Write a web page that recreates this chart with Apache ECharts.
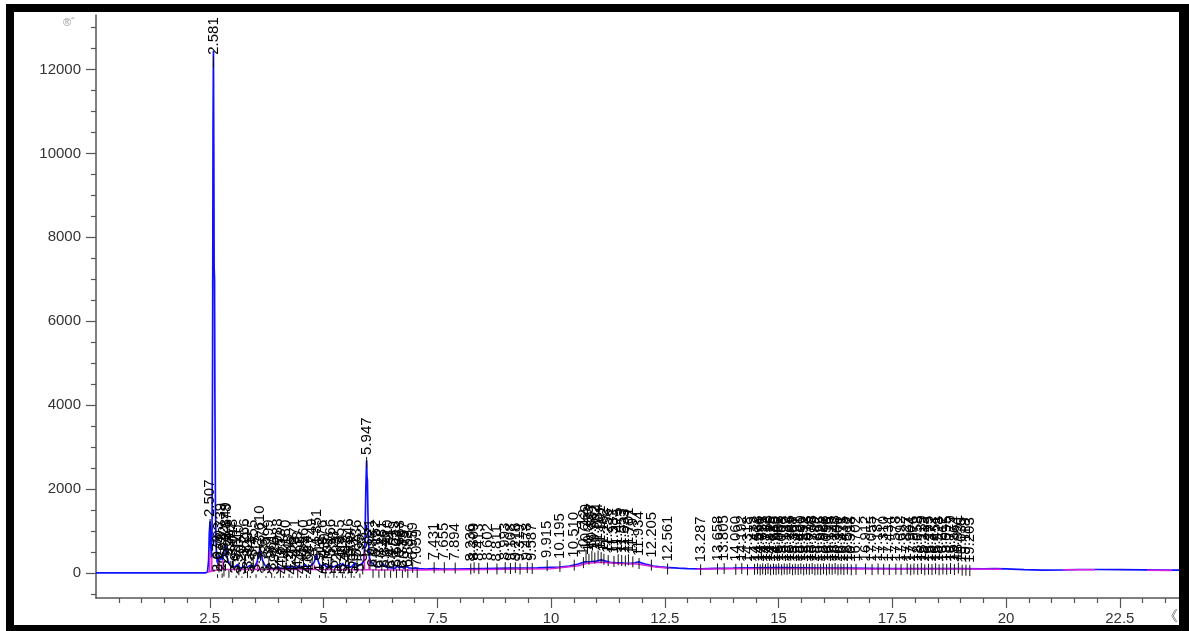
<!DOCTYPE html>
<html>
<head>
<meta charset="utf-8">
<script src="https://cdn.jsdelivr.net/npm/echarts@6/dist/echarts.min.js"></script>
<style>
html,body{margin:0;padding:0;background:#fff;}
#c{width:1189px;height:631px;}
</style>
</head>
<body>
<div id="c"></div>
<script>
// ---- data ----
const xTickLabels = [2.5, 5, 7.5, 10, 12.5, 15, 17.5, 20, 22.5];
const yTickLabels = [0, 2000, 4000, 6000, 8000, 10000, 12000];
const unitText = '®ˆ';

// chromatogram signal [time(min), counts]
const trace = [
[0,0],[2.40,0],[2.45,20],[2.475,300],[2.49,950],[2.507,1230],[2.52,700],[2.535,350],[2.55,900],[2.562,5000],[2.572,10500],[2.581,12450],[2.589,10000],[2.596,7300],[2.605,7000],[2.613,4200],[2.625,1500],[2.64,600],[2.66,280],[2.68,220],[2.70,420],[2.715,300],[2.74,260],[2.76,380],[2.78,300],[2.81,500],[2.83,640],[2.845,700],[2.86,520],[2.88,380],[2.90,300],[2.93,220],[2.96,160],[3.00,120],[3.04,140],[3.08,110],[3.12,200],[3.15,130],[3.20,110],[3.24,170],[3.28,120],[3.33,140],[3.37,110],[3.41,190],[3.45,130],[3.50,170],[3.54,260],[3.57,420],[3.60,560],[3.615,600],[3.63,470],[3.66,300],[3.70,200],[3.74,150],[3.78,120],[3.82,170],[3.86,110],[3.90,140],[3.95,100],[3.99,160],[4.04,110],[4.08,130],[4.13,100],[4.18,170],[4.22,110],[4.27,140],[4.31,100],[4.36,150],[4.41,110],[4.46,180],[4.50,120],[4.55,140],[4.60,200],[4.64,130],[4.69,160],[4.74,180],[4.79,240],[4.83,380],[4.851,440],[4.87,330],[4.90,220],[4.94,160],[4.98,120],[5.02,200],[5.06,140],[5.10,120],[5.15,180],[5.19,130],[5.24,150],[5.28,120],[5.33,190],[5.37,140],[5.42,230],[5.46,160],[5.50,140],[5.55,180],[5.59,130],[5.64,170],[5.69,240],[5.73,160],[5.77,140],[5.81,190],[5.85,200],[5.88,260],[5.91,700],[5.93,2000],[5.947,2680],[5.955,2300],[5.965,2200],[5.975,1500],[5.99,700],[6.01,350],[6.04,260],[6.07,280],[6.10,200],[6.14,150],[6.18,190],[6.22,140],[6.27,170],[6.31,220],[6.35,150],[6.40,130],[6.44,170],[6.49,120],[6.53,150],[6.58,110],[6.62,160],[6.67,120],[6.72,140],[6.77,110],[6.82,150],[6.87,120],[6.91,160],[6.96,110],[7.02,120],[7.10,100],[7.25,90],[7.43,100],[7.60,90],[7.90,90],[8.20,95],[8.50,100],[8.80,105],[9.10,110],[9.40,115],[9.70,120],[10.00,130],[10.20,135],[10.40,160],[10.60,210],[10.75,260],[10.90,270],[11.00,280],[11.10,310],[11.20,280],[11.30,250],[11.45,240],[11.60,230],[11.75,225],[11.85,240],[11.93,265],[12.00,230],[12.10,200],[12.25,160],[12.40,140],[12.60,125],[12.80,110],[13.00,100],[13.30,95],[13.60,105],[14.00,110],[14.50,120],[15.00,125],[15.50,120],[16.00,115],[16.50,110],[17.00,105],[17.50,100],[18.00,100],[18.50,100],[19.00,100],[19.50,95],[19.75,100],[20.00,95],[20.40,75],[20.80,65],[21.30,70],[21.60,80],[22.00,80],[22.50,75],[23.00,70],[23.50,65],[23.80,65]
];

// integration baseline (magenta), null = gap
const baseline = [
[2.45,10],[2.50,30],[2.50,520],[2.50,30],[2.545,40],[2.545,380],[2.545,40],[2.63,60],[2.70,70],[2.70,380],[2.70,70],[2.79,80],[2.79,300],[2.79,80],[2.95,80],[3.55,80],[3.55,240],[3.55,80],[4.80,80],[4.80,200],[4.80,80],[5.90,75],[5.90,520],[5.90,75],[6.00,75],[6.00,330],[6.00,75],[7.00,65],[8.00,75],[9.00,85],[10.00,100],[10.60,170],[10.80,230],[11.10,250],[11.50,220],[11.90,210],[12.30,140],[12.60,110],null,
[13.20,85],[14.00,95],[15.00,100],[16.00,95],[17.00,90],[18.00,90],[19.00,90],[19.90,85],null,
[21.25,75],[21.95,75],null,[23.10,60],[23.65,55]
];

// peak retention times and label heights
const peakTimes = [
2.507,2.581,2.672,2.703,2.739,2.772,2.812,2.849,2.878,2.921,2.962,
3.018,3.081,3.140,3.207,3.266,3.329,3.391,3.455,3.517,3.610,3.672,3.735,3.799,3.861,3.926,3.988,4.052,4.117,4.180,4.243,4.306,4.371,4.433,4.497,4.560,4.624,4.687,4.749,4.851,4.912,4.976,5.039,5.102,5.166,5.228,5.293,5.355,5.419,5.482,5.546,5.609,5.671,5.736,5.799,5.862,
5.947,
6.021,6.088,6.152,6.217,6.281,6.346,6.410,6.474,6.539,6.603,6.668,6.733,6.797,6.853,6.959,7.059,
7.431,7.655,7.894,8.236,8.309,8.413,8.602,8.811,8.993,9.108,9.216,9.319,9.478,9.587,9.915,10.195,10.510,
10.712,10.769,10.833,10.897,10.962,11.034,11.101,11.162,11.256,11.383,11.475,11.553,11.633,11.701,11.797,11.934,
12.205,12.561,13.287,13.658,13.805,14.060,14.192,14.318,
14.472,14.538,14.596,14.651,14.712,14.768,14.825,14.889,14.946,15.003,15.068,15.125,15.187,15.246,15.308,15.367,15.431,15.490,15.552,15.613,15.676,15.738,15.799,15.862,15.925,15.988,16.053,16.115,16.178,16.243,16.306,16.371,16.435,16.512,16.598,16.702,16.912,17.055,17.187,17.310,17.434,17.578,17.692,17.827,17.904,17.976,18.058,18.139,18.213,18.295,18.372,18.451,18.528,18.612,18.695,18.779,18.864,18.951,19.035,19.118,19.203,
19.750,21.301,21.590,23.216
];
const labelLevels = [
1260,12280,-60,250,700,-40,150,720,690,40,260,
320,-90,180,-110,330,20,-100,300,-60,640,250,-100,310,-30,-110,330,60,-100,300,-50,-110,320,30,-100,310,-60,-110,330,560,-80,300,-20,-110,320,40,-100,310,-50,-110,330,20,-100,300,-40,200,
2740,
320,60,300,40,280,50,300,30,270,60,290,40,260,60,240,80,
230,230,220,200,230,210,220,200,230,210,230,200,230,210,280,260,290,
350,480,430,500,460,510,470,430,400,380,420,400,390,420,370,330,
290,200,180,200,210,190,210,180,
190,205,180,200,185,210,180,195,185,205,180,200,190,210,180,195,185,205,180,200,190,210,180,195,185,205,180,200,190,210,180,195,185,200,180,190,200,185,200,190,185,195,185,205,180,200,190,210,180,195,185,205,180,200,190,210,185,
220,170,170,160
];

// ---- chart ----
const majorX = xTickLabels.slice();
const minorX = [];
for (let i = 1; i <= 47; i++) { const v = i * 0.5; if (Math.abs(v / 2.5 - Math.round(v / 2.5)) > 1e-6) minorX.push(v); }
const minorY = [];
for (let v = -500; v <= 13000; v += 500) { if (v % 2000 !== 0) minorY.push(v); }

const peakData = peakTimes.map((t, i) => [t, labelLevels[i]]);
const FONT = '"Liberation Sans", Arial, sans-serif';
const axisColor = '#555';

const chart = echarts.init(document.getElementById('c'), null, { renderer: 'canvas' });
chart.setOption({
  animation: false,
  backgroundColor: '#fff',
  grid: { left: 96, right: 10, top: 15, bottom: 33, containLabel: false },
  xAxis: [
    { type: 'value', min: 0, max: 23.8, position: 'bottom',
      axisLine: { show: true, onZero: false, lineStyle: { color: axisColor, width: 1.5 } },
      axisTick: { show: true, length: 10, customValues: majorX, lineStyle: { color: axisColor, width: 1.2 } },
      axisLabel: { customValues: xTickLabels, fontSize: 15, color: '#333', fontFamily: FONT, margin: 13,
                   formatter: v => String(v) },
      splitLine: { show: false } },
    { type: 'value', min: 0, max: 23.8, position: 'bottom',
      axisLine: { show: false, onZero: false },
      axisTick: { show: true, length: 5, customValues: minorX, lineStyle: { color: axisColor, width: 1.2 } },
      axisLabel: { show: false }, splitLine: { show: false } }
  ],
  yAxis: [
    { type: 'value', min: -600, max: 13300, position: 'left',
      axisLine: { show: true, onZero: false, lineStyle: { color: axisColor, width: 1.5 } },
      axisTick: { show: true, length: 10, customValues: yTickLabels, lineStyle: { color: axisColor, width: 1.2 } },
      axisLabel: { customValues: yTickLabels, fontSize: 15, color: '#333', fontFamily: FONT, margin: 15,
                   formatter: v => String(v) },
      splitLine: { show: false } },
    { type: 'value', min: -600, max: 13300, position: 'left',
      axisLine: { show: false, onZero: false },
      axisTick: { show: true, length: 5, customValues: minorY, lineStyle: { color: axisColor, width: 1.2 } },
      axisLabel: { show: false }, splitLine: { show: false } }
  ],
  series: [
    { type: 'line', data: trace, xAxisIndex: 0, yAxisIndex: 0, showSymbol: false, symbol: 'none',
      lineStyle: { color: '#1010ff', width: 1.7 }, z: 2 },
    { type: 'line', data: baseline, xAxisIndex: 0, yAxisIndex: 0, showSymbol: false, symbol: 'none', connectNulls: false,
      lineStyle: { color: '#e020e0', width: 1.5 }, z: 3 },
    { type: 'custom', data: peakData, xAxisIndex: 0, yAxisIndex: 0, clip: false, z: 4,
      renderItem: function (params, api) {
        const t = api.value(0), v = api.value(1);
        const p = api.coord([t, v]);
        const y0 = api.coord([t, 0])[1];
        const tickEnd = Math.min(p[1] + 10, y0 + 5);
        return { type: 'group', children: [
          { type: 'line', shape: { x1: p[0], y1: p[1] - 1, x2: p[0], y2: tickEnd }, style: { stroke: '#111', lineWidth: 1 } },
          { type: 'text', x: p[0], y: p[1] - 3, rotation: Math.PI / 2,
            style: { text: t.toFixed(3), align: 'left', verticalAlign: 'middle', font: '15px ' + FONT, fill: '#000' } }
        ] };
      } }
  ],
  graphic: [
    { type: 'text', left: 63, top: 17, style: { text: unitText, font: '11px ' + FONT, fill: '#999' } },
    { type: 'text', left: 1163, top: 609, style: { text: '《 i', font: '15px ' + FONT, fill: '#555' } },
    { type: 'rect', shape: { x: 0, y: 0, width: 1189, height: 4 }, style: { fill: '#fff' }, z: 100 },
    { type: 'rect', shape: { x: 0, y: 0, width: 6, height: 631 }, style: { fill: '#fff' }, z: 100 },
    { type: 'rect', shape: { x: 6, y: 4, width: 1183, height: 8 }, style: { fill: '#000' }, z: 101 },
    { type: 'rect', shape: { x: 6, y: 4, width: 8, height: 627 }, style: { fill: '#000' }, z: 101 },
    { type: 'rect', shape: { x: 1179, y: 4, width: 10, height: 627 }, style: { fill: '#000' }, z: 101 },
    { type: 'rect', shape: { x: 6, y: 625, width: 1183, height: 6 }, style: { fill: '#000' }, z: 101 }
  ]
});
</script>
</body>
</html>
